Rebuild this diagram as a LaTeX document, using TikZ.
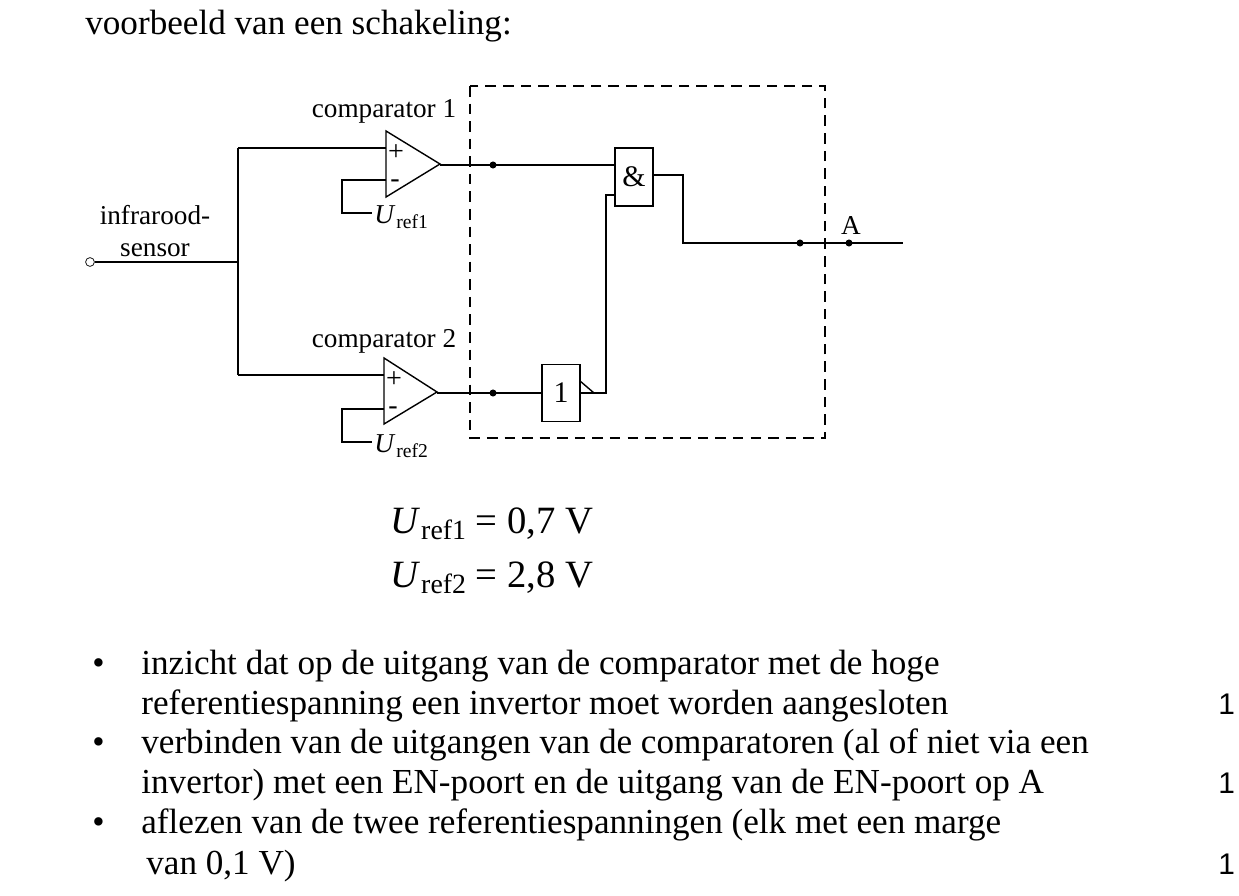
\documentclass[tikz,border=0pt]{standalone}
\usepackage{fontspec}
\setmainfont{Liberation Serif}
\newfontfamily\sansf{Liberation Sans}
\newcommand{\Uref}[1]{\textit{U}\kern0.5pt\raisebox{-0.35ex}{\scalebox{0.72}{ref#1}}}
\begin{document}
\begin{tikzpicture}[x=0.02cm,y=-0.02cm,
  w/.style={line width=0.8pt},
  lbl/.style={inner sep=0,font=\fontsize{15.5}{18}\selectfont},
  pm/.style={inner sep=0,font=\fontsize{16}{16}\selectfont},
  body/.style={inner sep=0,anchor=base west,font=\fontsize{20}{22}\selectfont},
  dot/.style={circle,fill,inner sep=0,minimum size=4pt}]
\useasboundingbox (0,0) rectangle (1239,895);
\node[body] (title) at (85,35) {voorbeeld van een schakeling:};
% input
\node[circle,draw,inner sep=0,minimum size=5pt,fill=white] (in) at (90,262) {};
\coordinate (j) at (238,262);
\draw[w] (in) -- (j);
\draw[w] (238,148) -- (238,375);
\node[lbl,align=center] (sens) at (155,231) {infrarood-\\sensor};
% comparators
\draw[w,fill=white] (386,131) -- (440,164) -- (386,197) -- cycle;
\draw[w,fill=white] (384,358) -- (437,392) -- (384,424) -- cycle;
\node[pm] at (396,153) {+};
\node[pm] at (395,184) {-};
\node[pm] at (394,380) {+};
\node[pm] at (393,411) {-};
\draw[w] (238,148) -- (386,148);
\draw[w] (238,375) -- (384,375);
\draw[w] (386,180) -- (342,180) -- (342,213) -- (372,213);
\draw[w] (384,409) -- (342,409) -- (342,442) -- (372,442);
\node[lbl,anchor=west] (u1) at (374,217) {\Uref{1}};
\node[lbl,anchor=west] (u2) at (374,446) {\Uref{2}};
\node[lbl] (cl1) at (384,111) {comparator 1};
\node[lbl] (cl2) at (384,341) {comparator 2};
% box
\draw[w,dashed,dash pattern=on 6pt off 4pt] (470,86) rectangle (825,438);
% gates
\node[draw,w,minimum width=38*0.02cm,minimum height=58*0.02cm,inner sep=0,font=\fontsize{17}{20}\selectfont] (and) at (634,177) {\&};
\node[draw,w,minimum width=38*0.02cm,minimum height=57*0.02cm,inner sep=0,font=\fontsize{17}{20}\selectfont] (not) at (561,393) {1};
\draw[w] (440,165) -- (615,165);
\draw[w] (437,393) -- (542,393);
\node[dot] (d1) at (493,165) {};
\node[dot] (d2) at (493,393) {};
\draw[w] (580,393) -- (606,393) -- (606,195) -- (615,195);
\draw[w] (580,381) -- (594,393);
\draw[w] (653,175) -- (683,175) -- (683,243) -- (903,243);
\node[dot] (d3) at (800,243) {};
\node[dot] (d4) at (849,243) {};
\node[lbl] (A) at (851,226) {A};
% equations
\node[body,font=\fontsize{22}{24}\selectfont] (e1) at (390,533) {\Uref{1} = 0,7 V};
\node[body,font=\fontsize{22}{24}\selectfont] (e2) at (390,587) {\Uref{2} = 2,8 V};
% bullets
\foreach \y in {674,753,833} \node[body] at (92,\y) {•};
\node[body] at (141,674) {inzicht dat op de uitgang van de comparator met de hoge};
\node[body] at (141,714) {referentiespanning een invertor moet worden aangesloten};
\node[body] at (141,753) {verbinden van de uitgangen van de comparatoren (al of niet via een};
\node[body] at (141,793) {invertor) met een EN-poort en de uitgang van de EN-poort op A};
\node[body] at (141,833) {aflezen van de twee referentiespanningen (elk met een marge};
\node[body] at (146,874) {van 0,1 V)};
\foreach \y in {714,793,874} \node[body,font=\sansf\fontsize{17}{20}\selectfont] at (1218,\y) {1};
\end{tikzpicture}
\end{document}
